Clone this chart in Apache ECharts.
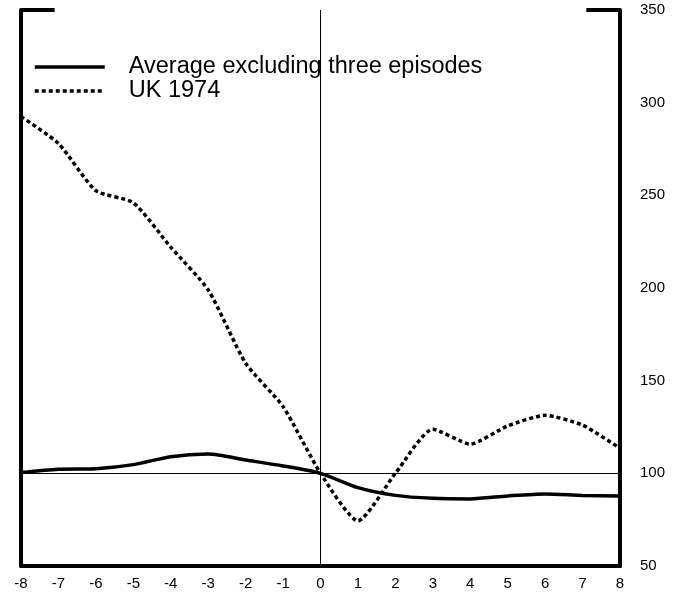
<!DOCTYPE html>
<html>
<head>
<meta charset="utf-8">
<script src="https://cdn.jsdelivr.net/npm/echarts@6/dist/echarts.min.js"></script>
<style>
  html, body { margin: 0; padding: 0; background: #fff; }
  #chart { width: 686px; height: 602px; }
</style>
</head>
<body>
<div id="chart"></div>
<script>
const quarters = [-8, -7, -6, -5, -4, -3, -2, -1, 0, 1, 2, 3, 4, 5, 6, 7, 8];
const averageExcl = [100.4, 102.2, 102.5, 104.7, 109, 110.4, 107.2, 104, 100, 92.3, 88.1, 86.5, 86.2, 87.8, 88.9, 88.1, 87.8];
const uk1974 = [292.5, 278, 252.5, 246, 222, 199, 159.4, 136, 100, 74.3, 100, 123.8, 115.8, 125.6, 131.3, 126, 113.5];
const yTicks = [50, 100, 150, 200, 250, 300, 350];

const chart = echarts.init(document.getElementById('chart'));

const pairs = (ys) => quarters.map((q, i) => [q, ys[i]]);

const option = {
  backgroundColor: '#fff',
  animation: false,
  textStyle: { fontFamily: 'Liberation Sans, Arial, sans-serif', color: '#000' },
  grid: { left: 21, right: 66, top: 10, bottom: 36 },
  legend: {
    left: 28,
    top: 50,
    orient: 'vertical',
    itemWidth: 70,
    itemHeight: 14,
    itemGap: 0,
    itemStyle: { opacity: 0 },
    lineStyle: { width: 3.5 },
    textStyle: { fontSize: 23.5, color: '#000', padding: [0, 0, 0, 19], lineHeight: 23 },
    data: ['Average excluding three episodes', 'UK 1974']
  },
  xAxis: {
    type: 'value',
    min: -8,
    max: 8,
    interval: 1,
    axisLine: { show: true, onZero: false, lineStyle: { color: '#000', width: 4 } },
    axisTick: { show: false },
    splitLine: { show: false },
    axisLabel: { fontSize: 15, color: '#000', margin: 10 }
  },
  yAxis: [
    {
      type: 'value',
      position: 'right',
      min: 50,
      max: 350,
      interval: 50,
      axisLine: { show: true, onZero: false, lineStyle: { color: '#000', width: 4 } },
      axisTick: { show: false },
      splitLine: { show: false },
      axisLabel: {
        fontSize: 15,
        color: '#000',
        margin: 20,
        formatter: (v) => (yTicks.includes(v) ? String(v) : '')
      }
    },
    {
      type: 'value',
      position: 'left',
      min: 50,
      max: 350,
      interval: 50,
      axisLine: { show: true, onZero: false, lineStyle: { color: '#000', width: 4 } },
      axisTick: { show: false },
      splitLine: { show: false },
      axisLabel: { show: false }
    }
  ],
  series: [
    {
      name: 'Average excluding three episodes',
      type: 'line',
      data: pairs(averageExcl),
      symbol: 'none',
      smooth: 0.25,
      lineStyle: { color: '#000', width: 3.5 },
      itemStyle: { color: '#000' },
      z: 3,
      markLine: {
        silent: true,
        symbol: 'none',
        label: { show: false },
        lineStyle: { color: '#000', width: 1, type: 'solid' },
        data: [{ xAxis: 0 }, { yAxis: 100 }]
      }
    },
    {
      name: 'UK 1974',
      type: 'line',
      data: pairs(uk1974),
      symbol: 'none',
      smooth: 0.2,
      lineStyle: { color: '#000', width: 3.5, type: [4, 3] },
      itemStyle: { color: '#000' },
      z: 3,
      markLine: {
        silent: true,
        symbol: 'none',
        label: { show: false },
        lineStyle: { color: '#000', width: 4, type: 'solid' },
        data: [
          [{ coord: [-8, 350] }, { coord: [-7.1, 350] }],
          [{ coord: [7.1, 350] }, { coord: [8, 350] }]
        ]
      }
    }
  ]
};

chart.setOption(option);
</script>
</body>
</html>
